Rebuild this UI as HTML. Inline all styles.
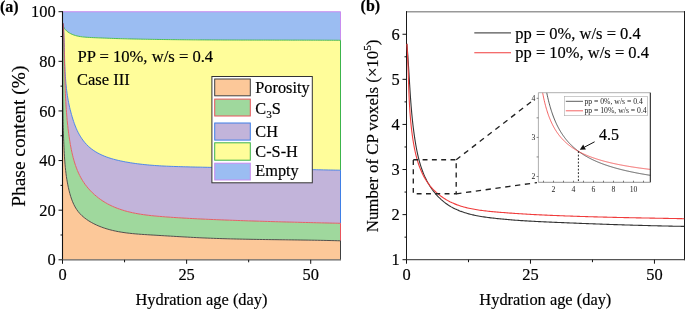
<!DOCTYPE html>
<html><head><meta charset="utf-8"><style>
html,body{margin:0;padding:0;background:#fff;}
svg{display:block;font-family:"Liberation Serif",serif;will-change:transform;}
text{fill:#000;stroke:#000;stroke-width:0.18px;}
text.s{stroke:none;fill:#222;}
</style></head><body>
<svg width="685" height="309" viewBox="0 0 685 309">
<polygon points="62.50,11.70 340.50,11.70 340.50,40.30 338.71,40.29 336.93,40.28 335.15,40.27 333.37,40.26 331.58,40.25 329.80,40.24 328.02,40.24 326.23,40.23 324.45,40.22 322.66,40.21 320.88,40.21 319.09,40.20 317.30,40.19 315.51,40.19 313.73,40.18 311.94,40.18 310.15,40.17 308.36,40.17 306.57,40.16 304.78,40.16 302.99,40.15 301.20,40.15 299.41,40.15 297.62,40.14 295.83,40.14 294.04,40.14 292.25,40.13 290.46,40.13 288.66,40.13 286.87,40.12 285.08,40.12 283.29,40.12 281.49,40.11 279.70,40.11 277.91,40.11 276.12,40.11 274.32,40.10 272.53,40.10 270.74,40.10 268.94,40.10 267.15,40.09 265.35,40.09 263.56,40.09 261.77,40.09 259.97,40.08 258.18,40.08 256.38,40.08 254.59,40.07 252.80,40.07 251.00,40.07 249.21,40.07 247.41,40.06 245.62,40.06 243.83,40.05 242.03,40.05 240.24,40.05 238.45,40.04 236.65,40.04 234.86,40.03 233.07,40.03 231.27,40.02 229.48,40.02 227.69,40.01 225.89,40.00 224.10,40.00 222.31,39.99 220.52,39.98 218.73,39.98 216.93,39.97 215.14,39.96 213.35,39.95 211.56,39.94 209.77,39.93 207.98,39.92 206.19,39.91 204.40,39.90 202.61,39.89 200.82,39.88 199.04,39.87 197.25,39.86 195.46,39.84 193.67,39.83 191.88,39.82 190.10,39.80 188.31,39.79 186.53,39.77 184.74,39.76 182.96,39.74 181.17,39.72 179.39,39.71 177.60,39.69 175.82,39.67 174.04,39.65 172.26,39.63 170.48,39.61 168.70,39.59 166.92,39.57 165.14,39.55 163.36,39.52 161.58,39.50 159.80,39.47 158.02,39.45 156.25,39.42 154.47,39.40 152.69,39.37 150.92,39.34 149.14,39.31 147.36,39.28 145.58,39.25 143.81,39.21 142.03,39.18 140.25,39.14 138.47,39.11 136.69,39.07 134.90,39.03 133.12,38.99 131.34,38.95 129.55,38.90 127.76,38.86 125.97,38.81 124.18,38.76 122.39,38.71 120.59,38.66 118.80,38.60 117.00,38.55 115.20,38.49 113.39,38.43 111.59,38.37 109.78,38.30 107.96,38.24 106.15,38.17 104.33,38.10 102.51,38.02 100.68,37.95 98.86,37.87 97.02,37.79 95.19,37.71 93.35,37.63 91.51,37.54 89.66,37.45 87.82,37.34 85.98,37.22 84.16,37.06 82.35,36.87 80.57,36.63 78.82,36.33 77.11,35.96 75.43,35.53 73.80,35.01 72.22,34.39 70.70,33.68 69.24,32.86 67.85,31.92 66.54,30.85 65.35,29.63 64.32,28.26 63.47,26.70 62.85,24.96 62.48,23.00 62.50,23.00" fill="#9bbdf2"/>
<polygon points="62.50,23.00 62.48,23.00 62.85,24.96 63.47,26.70 64.32,28.26 65.35,29.63 66.54,30.85 67.85,31.92 69.24,32.86 70.70,33.68 72.22,34.39 73.80,35.01 75.43,35.53 77.11,35.96 78.82,36.33 80.57,36.63 82.35,36.87 84.16,37.06 85.98,37.22 87.82,37.34 89.66,37.45 91.51,37.54 93.35,37.63 95.19,37.71 97.02,37.79 98.86,37.87 100.68,37.95 102.51,38.02 104.33,38.10 106.15,38.17 107.96,38.24 109.78,38.30 111.59,38.37 113.39,38.43 115.20,38.49 117.00,38.55 118.80,38.60 120.59,38.66 122.39,38.71 124.18,38.76 125.97,38.81 127.76,38.86 129.55,38.90 131.34,38.95 133.12,38.99 134.90,39.03 136.69,39.07 138.47,39.11 140.25,39.14 142.03,39.18 143.81,39.21 145.58,39.25 147.36,39.28 149.14,39.31 150.92,39.34 152.69,39.37 154.47,39.40 156.25,39.42 158.02,39.45 159.80,39.47 161.58,39.50 163.36,39.52 165.14,39.55 166.92,39.57 168.70,39.59 170.48,39.61 172.26,39.63 174.04,39.65 175.82,39.67 177.60,39.69 179.39,39.71 181.17,39.72 182.96,39.74 184.74,39.76 186.53,39.77 188.31,39.79 190.10,39.80 191.88,39.82 193.67,39.83 195.46,39.84 197.25,39.86 199.04,39.87 200.82,39.88 202.61,39.89 204.40,39.90 206.19,39.91 207.98,39.92 209.77,39.93 211.56,39.94 213.35,39.95 215.14,39.96 216.93,39.97 218.73,39.98 220.52,39.98 222.31,39.99 224.10,40.00 225.89,40.00 227.69,40.01 229.48,40.02 231.27,40.02 233.07,40.03 234.86,40.03 236.65,40.04 238.45,40.04 240.24,40.05 242.03,40.05 243.83,40.05 245.62,40.06 247.41,40.06 249.21,40.07 251.00,40.07 252.80,40.07 254.59,40.07 256.38,40.08 258.18,40.08 259.97,40.08 261.77,40.09 263.56,40.09 265.35,40.09 267.15,40.09 268.94,40.10 270.74,40.10 272.53,40.10 274.32,40.10 276.12,40.11 277.91,40.11 279.70,40.11 281.49,40.11 283.29,40.12 285.08,40.12 286.87,40.12 288.66,40.13 290.46,40.13 292.25,40.13 294.04,40.14 295.83,40.14 297.62,40.14 299.41,40.15 301.20,40.15 302.99,40.15 304.78,40.16 306.57,40.16 308.36,40.17 310.15,40.17 311.94,40.18 313.73,40.18 315.51,40.19 317.30,40.19 319.09,40.20 320.88,40.21 322.66,40.21 324.45,40.22 326.23,40.23 328.02,40.24 329.80,40.24 331.58,40.25 333.37,40.26 335.15,40.27 336.93,40.28 338.71,40.29 340.50,40.30 340.50,170.20 338.07,170.16 335.65,170.11 333.23,170.07 330.80,170.02 328.38,169.97 325.96,169.93 323.54,169.88 321.12,169.83 318.70,169.78 316.28,169.72 313.87,169.67 311.45,169.62 309.04,169.57 306.62,169.51 304.21,169.46 301.79,169.40 299.38,169.35 296.96,169.29 294.55,169.23 292.14,169.18 289.72,169.12 287.31,169.06 284.90,169.01 282.49,168.95 280.07,168.89 277.66,168.84 275.25,168.78 272.83,168.72 270.42,168.66 268.00,168.61 265.59,168.55 263.17,168.49 260.76,168.44 258.34,168.38 255.93,168.32 253.51,168.27 251.09,168.21 248.67,168.16 246.25,168.11 243.83,168.05 241.41,168.00 238.99,167.95 236.56,167.90 234.14,167.85 231.71,167.80 229.29,167.75 226.86,167.70 224.43,167.65 222.01,167.60 219.58,167.55 217.15,167.51 214.72,167.46 212.29,167.41 209.87,167.36 207.44,167.31 205.02,167.26 202.59,167.21 200.17,167.15 197.75,167.10 195.33,167.04 192.91,166.99 190.50,166.93 188.08,166.87 185.67,166.80 183.27,166.74 180.86,166.67 178.46,166.60 176.05,166.53 173.65,166.45 171.26,166.36 168.86,166.26 166.46,166.16 164.07,166.05 161.67,165.92 159.28,165.78 156.88,165.63 154.49,165.46 152.09,165.28 149.69,165.08 147.29,164.86 144.89,164.63 142.49,164.37 140.08,164.09 137.67,163.79 135.26,163.47 132.85,163.12 130.43,162.74 128.01,162.34 125.58,161.91 123.16,161.45 120.73,160.95 118.32,160.42 115.92,159.83 113.53,159.20 111.17,158.52 108.84,157.78 106.55,156.97 104.29,156.10 102.07,155.16 99.91,154.14 97.80,153.04 95.75,151.85 93.76,150.58 91.84,149.21 90.00,147.74 88.23,146.17 86.55,144.50 84.96,142.72 83.45,140.86 82.02,138.91 80.68,136.89 79.43,134.81 78.26,132.67 77.18,130.49 76.18,128.26 75.25,126.01 74.40,123.72 73.60,121.42 72.85,119.10 72.15,116.76 71.47,114.43 70.83,112.09 70.22,109.75 69.65,107.40 69.13,105.04 68.64,102.68 68.19,100.31 67.78,97.94 67.40,95.56 67.05,93.18 66.73,90.79 66.45,88.40 66.19,86.01 65.95,83.61 65.74,81.21 65.55,78.80 65.38,76.39 65.23,73.98 65.09,71.57 64.98,69.16 64.87,66.74 64.78,64.32 64.70,61.90 64.62,59.48 64.56,57.06 64.49,54.63 64.44,52.21 64.38,49.79 64.32,47.36 64.26,44.94 64.20,42.52 64.14,40.10 64.07,37.68 63.98,35.26 63.89,32.84 63.79,30.43 63.68,28.02 63.55,25.61 63.40,23.20 62.50,23.20" fill="#fffd9a"/>
<polygon points="62.50,23.20 63.40,23.20 63.55,25.61 63.68,28.02 63.79,30.43 63.89,32.84 63.98,35.26 64.07,37.68 64.14,40.10 64.20,42.52 64.26,44.94 64.32,47.36 64.38,49.79 64.44,52.21 64.49,54.63 64.56,57.06 64.62,59.48 64.70,61.90 64.78,64.32 64.87,66.74 64.98,69.16 65.09,71.57 65.23,73.98 65.38,76.39 65.55,78.80 65.74,81.21 65.95,83.61 66.19,86.01 66.45,88.40 66.73,90.79 67.05,93.18 67.40,95.56 67.78,97.94 68.19,100.31 68.64,102.68 69.13,105.04 69.65,107.40 70.22,109.75 70.83,112.09 71.47,114.43 72.15,116.76 72.85,119.10 73.60,121.42 74.40,123.72 75.25,126.01 76.18,128.26 77.18,130.49 78.26,132.67 79.43,134.81 80.68,136.89 82.02,138.91 83.45,140.86 84.96,142.72 86.55,144.50 88.23,146.17 90.00,147.74 91.84,149.21 93.76,150.58 95.75,151.85 97.80,153.04 99.91,154.14 102.07,155.16 104.29,156.10 106.55,156.97 108.84,157.78 111.17,158.52 113.53,159.20 115.92,159.83 118.32,160.42 120.73,160.95 123.16,161.45 125.58,161.91 128.01,162.34 130.43,162.74 132.85,163.12 135.26,163.47 137.67,163.79 140.08,164.09 142.49,164.37 144.89,164.63 147.29,164.86 149.69,165.08 152.09,165.28 154.49,165.46 156.88,165.63 159.28,165.78 161.67,165.92 164.07,166.05 166.46,166.16 168.86,166.26 171.26,166.36 173.65,166.45 176.05,166.53 178.46,166.60 180.86,166.67 183.27,166.74 185.67,166.80 188.08,166.87 190.50,166.93 192.91,166.99 195.33,167.04 197.75,167.10 200.17,167.15 202.59,167.21 205.02,167.26 207.44,167.31 209.87,167.36 212.29,167.41 214.72,167.46 217.15,167.51 219.58,167.55 222.01,167.60 224.43,167.65 226.86,167.70 229.29,167.75 231.71,167.80 234.14,167.85 236.56,167.90 238.99,167.95 241.41,168.00 243.83,168.05 246.25,168.11 248.67,168.16 251.09,168.21 253.51,168.27 255.93,168.32 258.34,168.38 260.76,168.44 263.17,168.49 265.59,168.55 268.00,168.61 270.42,168.66 272.83,168.72 275.25,168.78 277.66,168.84 280.07,168.89 282.49,168.95 284.90,169.01 287.31,169.06 289.72,169.12 292.14,169.18 294.55,169.23 296.96,169.29 299.38,169.35 301.79,169.40 304.21,169.46 306.62,169.51 309.04,169.57 311.45,169.62 313.87,169.67 316.28,169.72 318.70,169.78 321.12,169.83 323.54,169.88 325.96,169.93 328.38,169.97 330.80,170.02 333.23,170.07 335.65,170.11 338.07,170.16 340.50,170.20 340.50,223.30 337.82,223.24 335.13,223.18 332.45,223.11 329.76,223.05 327.07,222.99 324.38,222.93 321.68,222.86 318.99,222.80 316.29,222.74 313.59,222.67 310.89,222.61 308.18,222.54 305.48,222.47 302.78,222.41 300.07,222.34 297.36,222.27 294.66,222.20 291.95,222.13 289.24,222.06 286.53,221.99 283.82,221.91 281.11,221.84 278.40,221.76 275.69,221.69 272.98,221.61 270.27,221.53 267.56,221.45 264.85,221.37 262.14,221.29 259.44,221.21 256.73,221.12 254.02,221.04 251.32,220.95 248.62,220.86 245.91,220.77 243.21,220.68 240.51,220.58 237.82,220.49 235.12,220.39 232.43,220.29 229.74,220.20 227.05,220.09 224.36,219.99 221.67,219.89 218.99,219.78 216.31,219.67 213.63,219.56 210.96,219.45 208.28,219.33 205.60,219.21 202.93,219.09 200.25,218.96 197.58,218.83 194.90,218.70 192.22,218.56 189.54,218.41 186.86,218.26 184.17,218.11 181.48,217.95 178.78,217.78 176.08,217.61 173.37,217.43 170.66,217.25 167.94,217.05 165.22,216.85 162.49,216.64 159.75,216.42 157.01,216.19 154.27,215.93 151.54,215.65 148.80,215.34 146.08,215.01 143.36,214.64 140.66,214.23 137.96,213.78 135.29,213.29 132.63,212.74 129.99,212.15 127.37,211.50 124.78,210.79 122.22,210.01 119.68,209.17 117.18,208.26 114.71,207.27 112.27,206.21 109.88,205.06 107.52,203.83 105.21,202.51 102.94,201.10 100.72,199.60 98.56,198.01 96.46,196.34 94.42,194.59 92.45,192.76 90.55,190.86 88.74,188.88 87.00,186.82 85.36,184.70 83.80,182.50 82.34,180.25 80.99,177.92 79.73,175.54 78.56,173.11 77.48,170.63 76.48,168.12 75.56,165.56 74.71,162.98 73.93,160.38 73.21,157.76 72.55,155.12 71.94,152.48 71.37,149.82 70.85,147.15 70.37,144.48 69.92,141.80 69.50,139.12 69.10,136.44 68.73,133.76 68.38,131.08 68.05,128.40 67.75,125.72 67.46,123.03 67.19,120.35 66.94,117.66 66.71,114.97 66.50,112.29 66.30,109.60 66.12,106.91 65.95,104.22 65.79,101.53 65.65,98.84 65.52,96.15 65.40,93.45 65.29,90.76 65.19,88.07 65.09,85.37 65.01,82.68 64.93,79.98 64.85,77.29 64.78,74.59 64.72,71.90 64.65,69.20 64.59,66.50 64.53,63.80 64.47,61.11 64.41,58.41 64.35,55.71 64.29,53.01 64.22,50.31 64.15,47.61 64.08,44.91 64.00,42.21 63.91,39.51 63.81,36.81 63.71,34.11 63.60,31.40 63.48,28.70 63.34,26.00 63.20,23.30 62.50,23.30" fill="#c2b4da"/>
<polygon points="62.50,23.30 63.20,23.30 63.34,26.00 63.48,28.70 63.60,31.40 63.71,34.11 63.81,36.81 63.91,39.51 64.00,42.21 64.08,44.91 64.15,47.61 64.22,50.31 64.29,53.01 64.35,55.71 64.41,58.41 64.47,61.11 64.53,63.80 64.59,66.50 64.65,69.20 64.72,71.90 64.78,74.59 64.85,77.29 64.93,79.98 65.01,82.68 65.09,85.37 65.19,88.07 65.29,90.76 65.40,93.45 65.52,96.15 65.65,98.84 65.79,101.53 65.95,104.22 66.12,106.91 66.30,109.60 66.50,112.29 66.71,114.97 66.94,117.66 67.19,120.35 67.46,123.03 67.75,125.72 68.05,128.40 68.38,131.08 68.73,133.76 69.10,136.44 69.50,139.12 69.92,141.80 70.37,144.48 70.85,147.15 71.37,149.82 71.94,152.48 72.55,155.12 73.21,157.76 73.93,160.38 74.71,162.98 75.56,165.56 76.48,168.12 77.48,170.63 78.56,173.11 79.73,175.54 80.99,177.92 82.34,180.25 83.80,182.50 85.36,184.70 87.00,186.82 88.74,188.88 90.55,190.86 92.45,192.76 94.42,194.59 96.46,196.34 98.56,198.01 100.72,199.60 102.94,201.10 105.21,202.51 107.52,203.83 109.88,205.06 112.27,206.21 114.71,207.27 117.18,208.26 119.68,209.17 122.22,210.01 124.78,210.79 127.37,211.50 129.99,212.15 132.63,212.74 135.29,213.29 137.96,213.78 140.66,214.23 143.36,214.64 146.08,215.01 148.80,215.34 151.54,215.65 154.27,215.93 157.01,216.19 159.75,216.42 162.49,216.64 165.22,216.85 167.94,217.05 170.66,217.25 173.37,217.43 176.08,217.61 178.78,217.78 181.48,217.95 184.17,218.11 186.86,218.26 189.54,218.41 192.22,218.56 194.90,218.70 197.58,218.83 200.25,218.96 202.93,219.09 205.60,219.21 208.28,219.33 210.96,219.45 213.63,219.56 216.31,219.67 218.99,219.78 221.67,219.89 224.36,219.99 227.05,220.09 229.74,220.20 232.43,220.29 235.12,220.39 237.82,220.49 240.51,220.58 243.21,220.68 245.91,220.77 248.62,220.86 251.32,220.95 254.02,221.04 256.73,221.12 259.44,221.21 262.14,221.29 264.85,221.37 267.56,221.45 270.27,221.53 272.98,221.61 275.69,221.69 278.40,221.76 281.11,221.84 283.82,221.91 286.53,221.99 289.24,222.06 291.95,222.13 294.66,222.20 297.36,222.27 300.07,222.34 302.78,222.41 305.48,222.47 308.18,222.54 310.89,222.61 313.59,222.67 316.29,222.74 318.99,222.80 321.68,222.86 324.38,222.93 327.07,222.99 329.76,223.05 332.45,223.11 335.13,223.18 337.82,223.24 340.50,223.30 340.50,240.81 337.63,240.73 334.76,240.65 331.88,240.58 329.01,240.51 326.13,240.45 323.25,240.39 320.37,240.33 317.49,240.28 314.61,240.23 311.72,240.18 308.83,240.13 305.95,240.09 303.06,240.05 300.17,240.00 297.28,239.96 294.39,239.93 291.49,239.89 288.60,239.85 285.71,239.81 282.81,239.78 279.92,239.74 277.02,239.70 274.13,239.67 271.24,239.63 268.34,239.59 265.45,239.55 262.55,239.50 259.66,239.46 256.76,239.41 253.87,239.37 250.98,239.32 248.09,239.26 245.20,239.21 242.31,239.15 239.42,239.08 236.53,239.02 233.64,238.95 230.76,238.87 227.87,238.80 224.99,238.71 222.11,238.63 219.23,238.53 216.35,238.44 213.48,238.33 210.61,238.22 207.73,238.11 204.86,237.99 202.00,237.86 199.13,237.73 196.27,237.59 193.41,237.44 190.55,237.29 187.68,237.14 184.82,236.98 181.96,236.81 179.09,236.65 176.23,236.48 173.36,236.30 170.48,236.13 167.61,235.96 164.72,235.78 161.84,235.60 158.94,235.43 156.04,235.25 153.14,235.08 150.22,234.91 147.30,234.73 144.38,234.54 141.45,234.35 138.53,234.13 135.61,233.89 132.70,233.62 129.79,233.31 126.89,232.96 124.01,232.57 121.14,232.13 118.29,231.63 115.46,231.07 112.65,230.44 109.87,229.74 107.11,228.97 104.39,228.11 101.69,227.16 99.02,226.12 96.40,224.97 93.81,223.73 91.27,222.37 88.81,220.90 86.43,219.31 84.17,217.59 82.03,215.75 80.03,213.76 78.20,211.63 76.55,209.35 75.08,206.94 73.77,204.41 72.60,201.78 71.57,199.07 70.64,196.29 69.82,193.47 69.09,190.63 68.43,187.78 67.83,184.92 67.29,182.06 66.80,179.20 66.37,176.33 65.99,173.46 65.65,170.58 65.34,167.71 65.08,164.83 64.84,161.95 64.63,159.07 64.45,156.19 64.28,153.31 64.13,150.43 63.99,147.55 63.85,144.66 63.73,141.78 63.62,138.90 63.51,136.02 63.41,133.13 63.33,130.25 63.24,127.37 63.17,124.48 63.10,121.60 63.04,118.72 62.99,115.83 62.94,112.95 62.90,110.07 62.86,107.18 62.83,104.30 62.80,101.42 62.78,98.53 62.76,95.65 62.75,92.77 62.74,89.88 62.73,87.00 62.72,84.11 62.72,81.23 62.72,78.34 62.72,75.46 62.72,72.57 62.73,69.69 62.73,66.80 62.74,63.92 62.75,61.03 62.75,58.14 62.76,55.26 62.76,52.37 62.77,49.49 62.77,46.60 62.77,43.71 62.77,40.83 62.76,37.94 62.76,35.05 62.75,32.16 62.74,29.28 62.72,26.39 62.70,23.50 62.50,23.50" fill="#9fd89d"/>
<polygon points="62.50,23.50 62.70,23.50 62.72,26.39 62.74,29.28 62.75,32.16 62.76,35.05 62.76,37.94 62.77,40.83 62.77,43.71 62.77,46.60 62.77,49.49 62.76,52.37 62.76,55.26 62.75,58.14 62.75,61.03 62.74,63.92 62.73,66.80 62.73,69.69 62.72,72.57 62.72,75.46 62.72,78.34 62.72,81.23 62.72,84.11 62.73,87.00 62.74,89.88 62.75,92.77 62.76,95.65 62.78,98.53 62.80,101.42 62.83,104.30 62.86,107.18 62.90,110.07 62.94,112.95 62.99,115.83 63.04,118.72 63.10,121.60 63.17,124.48 63.24,127.37 63.33,130.25 63.41,133.13 63.51,136.02 63.62,138.90 63.73,141.78 63.85,144.66 63.99,147.55 64.13,150.43 64.28,153.31 64.45,156.19 64.63,159.07 64.84,161.95 65.08,164.83 65.34,167.71 65.65,170.58 65.99,173.46 66.37,176.33 66.80,179.20 67.29,182.06 67.83,184.92 68.43,187.78 69.09,190.63 69.82,193.47 70.64,196.29 71.57,199.07 72.60,201.78 73.77,204.41 75.08,206.94 76.55,209.35 78.20,211.63 80.03,213.76 82.03,215.75 84.17,217.59 86.43,219.31 88.81,220.90 91.27,222.37 93.81,223.73 96.40,224.97 99.02,226.12 101.69,227.16 104.39,228.11 107.11,228.97 109.87,229.74 112.65,230.44 115.46,231.07 118.29,231.63 121.14,232.13 124.01,232.57 126.89,232.96 129.79,233.31 132.70,233.62 135.61,233.89 138.53,234.13 141.45,234.35 144.38,234.54 147.30,234.73 150.22,234.91 153.14,235.08 156.04,235.25 158.94,235.43 161.84,235.60 164.72,235.78 167.61,235.96 170.48,236.13 173.36,236.30 176.23,236.48 179.09,236.65 181.96,236.81 184.82,236.98 187.68,237.14 190.55,237.29 193.41,237.44 196.27,237.59 199.13,237.73 202.00,237.86 204.86,237.99 207.73,238.11 210.61,238.22 213.48,238.33 216.35,238.44 219.23,238.53 222.11,238.63 224.99,238.71 227.87,238.80 230.76,238.87 233.64,238.95 236.53,239.02 239.42,239.08 242.31,239.15 245.20,239.21 248.09,239.26 250.98,239.32 253.87,239.37 256.76,239.41 259.66,239.46 262.55,239.50 265.45,239.55 268.34,239.59 271.24,239.63 274.13,239.67 277.02,239.70 279.92,239.74 282.81,239.78 285.71,239.81 288.60,239.85 291.49,239.89 294.39,239.93 297.28,239.96 300.17,240.00 303.06,240.05 305.95,240.09 308.83,240.13 311.72,240.18 314.61,240.23 317.49,240.28 320.37,240.33 323.25,240.39 326.13,240.45 329.01,240.51 331.88,240.58 334.76,240.65 337.63,240.73 340.50,240.81 340.50,259.80 62.50,259.80" fill="#fcc899"/>
<line x1="340.5" y1="11.7" x2="340.5" y2="40.30" stroke="#c88cf0" stroke-width="1"/>
<line x1="340.5" y1="40.30" x2="340.5" y2="170.20" stroke="#3cb44b" stroke-width="1"/>
<line x1="340.5" y1="170.20" x2="340.5" y2="223.30" stroke="#3f7fe6" stroke-width="1"/>
<line x1="340.5" y1="223.30" x2="340.5" y2="240.81" stroke="#e8545c" stroke-width="1"/>
<line x1="340.5" y1="240.81" x2="340.5" y2="259.8" stroke="#404040" stroke-width="1"/>
<line x1="62.5" y1="11.7" x2="340.5" y2="11.7" stroke="#c88cf0" stroke-width="1.1"/>
<polyline points="62.48,23.00 62.85,24.96 63.47,26.70 64.32,28.26 65.35,29.63 66.54,30.85 67.85,31.92 69.24,32.86 70.70,33.68 72.22,34.39 73.80,35.01 75.43,35.53 77.11,35.96 78.82,36.33 80.57,36.63 82.35,36.87 84.16,37.06 85.98,37.22 87.82,37.34 89.66,37.45 91.51,37.54 93.35,37.63 95.19,37.71 97.02,37.79 98.86,37.87 100.68,37.95 102.51,38.02 104.33,38.10 106.15,38.17 107.96,38.24 109.78,38.30 111.59,38.37 113.39,38.43 115.20,38.49 117.00,38.55 118.80,38.60 120.59,38.66 122.39,38.71 124.18,38.76 125.97,38.81 127.76,38.86 129.55,38.90 131.34,38.95 133.12,38.99 134.90,39.03 136.69,39.07 138.47,39.11 140.25,39.14 142.03,39.18 143.81,39.21 145.58,39.25 147.36,39.28 149.14,39.31 150.92,39.34 152.69,39.37 154.47,39.40 156.25,39.42 158.02,39.45 159.80,39.47 161.58,39.50 163.36,39.52 165.14,39.55 166.92,39.57 168.70,39.59 170.48,39.61 172.26,39.63 174.04,39.65 175.82,39.67 177.60,39.69 179.39,39.71 181.17,39.72 182.96,39.74 184.74,39.76 186.53,39.77 188.31,39.79 190.10,39.80 191.88,39.82 193.67,39.83 195.46,39.84 197.25,39.86 199.04,39.87 200.82,39.88 202.61,39.89 204.40,39.90 206.19,39.91 207.98,39.92 209.77,39.93 211.56,39.94 213.35,39.95 215.14,39.96 216.93,39.97 218.73,39.98 220.52,39.98 222.31,39.99 224.10,40.00 225.89,40.00 227.69,40.01 229.48,40.02 231.27,40.02 233.07,40.03 234.86,40.03 236.65,40.04 238.45,40.04 240.24,40.05 242.03,40.05 243.83,40.05 245.62,40.06 247.41,40.06 249.21,40.07 251.00,40.07 252.80,40.07 254.59,40.07 256.38,40.08 258.18,40.08 259.97,40.08 261.77,40.09 263.56,40.09 265.35,40.09 267.15,40.09 268.94,40.10 270.74,40.10 272.53,40.10 274.32,40.10 276.12,40.11 277.91,40.11 279.70,40.11 281.49,40.11 283.29,40.12 285.08,40.12 286.87,40.12 288.66,40.13 290.46,40.13 292.25,40.13 294.04,40.14 295.83,40.14 297.62,40.14 299.41,40.15 301.20,40.15 302.99,40.15 304.78,40.16 306.57,40.16 308.36,40.17 310.15,40.17 311.94,40.18 313.73,40.18 315.51,40.19 317.30,40.19 319.09,40.20 320.88,40.21 322.66,40.21 324.45,40.22 326.23,40.23 328.02,40.24 329.80,40.24 331.58,40.25 333.37,40.26 335.15,40.27 336.93,40.28 338.71,40.29 340.50,40.30" fill="none" stroke="#3cb44b" stroke-width="0.9"/>
<polyline points="63.40,23.20 63.55,25.61 63.68,28.02 63.79,30.43 63.89,32.84 63.98,35.26 64.07,37.68 64.14,40.10 64.20,42.52 64.26,44.94 64.32,47.36 64.38,49.79 64.44,52.21 64.49,54.63 64.56,57.06 64.62,59.48 64.70,61.90 64.78,64.32 64.87,66.74 64.98,69.16 65.09,71.57 65.23,73.98 65.38,76.39 65.55,78.80 65.74,81.21 65.95,83.61 66.19,86.01 66.45,88.40 66.73,90.79 67.05,93.18 67.40,95.56 67.78,97.94 68.19,100.31 68.64,102.68 69.13,105.04 69.65,107.40 70.22,109.75 70.83,112.09 71.47,114.43 72.15,116.76 72.85,119.10 73.60,121.42 74.40,123.72 75.25,126.01 76.18,128.26 77.18,130.49 78.26,132.67 79.43,134.81 80.68,136.89 82.02,138.91 83.45,140.86 84.96,142.72 86.55,144.50 88.23,146.17 90.00,147.74 91.84,149.21 93.76,150.58 95.75,151.85 97.80,153.04 99.91,154.14 102.07,155.16 104.29,156.10 106.55,156.97 108.84,157.78 111.17,158.52 113.53,159.20 115.92,159.83 118.32,160.42 120.73,160.95 123.16,161.45 125.58,161.91 128.01,162.34 130.43,162.74 132.85,163.12 135.26,163.47 137.67,163.79 140.08,164.09 142.49,164.37 144.89,164.63 147.29,164.86 149.69,165.08 152.09,165.28 154.49,165.46 156.88,165.63 159.28,165.78 161.67,165.92 164.07,166.05 166.46,166.16 168.86,166.26 171.26,166.36 173.65,166.45 176.05,166.53 178.46,166.60 180.86,166.67 183.27,166.74 185.67,166.80 188.08,166.87 190.50,166.93 192.91,166.99 195.33,167.04 197.75,167.10 200.17,167.15 202.59,167.21 205.02,167.26 207.44,167.31 209.87,167.36 212.29,167.41 214.72,167.46 217.15,167.51 219.58,167.55 222.01,167.60 224.43,167.65 226.86,167.70 229.29,167.75 231.71,167.80 234.14,167.85 236.56,167.90 238.99,167.95 241.41,168.00 243.83,168.05 246.25,168.11 248.67,168.16 251.09,168.21 253.51,168.27 255.93,168.32 258.34,168.38 260.76,168.44 263.17,168.49 265.59,168.55 268.00,168.61 270.42,168.66 272.83,168.72 275.25,168.78 277.66,168.84 280.07,168.89 282.49,168.95 284.90,169.01 287.31,169.06 289.72,169.12 292.14,169.18 294.55,169.23 296.96,169.29 299.38,169.35 301.79,169.40 304.21,169.46 306.62,169.51 309.04,169.57 311.45,169.62 313.87,169.67 316.28,169.72 318.70,169.78 321.12,169.83 323.54,169.88 325.96,169.93 328.38,169.97 330.80,170.02 333.23,170.07 335.65,170.11 338.07,170.16 340.50,170.20" fill="none" stroke="#3f7fe6" stroke-width="0.9"/>
<polyline points="63.20,23.30 63.34,26.00 63.48,28.70 63.60,31.40 63.71,34.11 63.81,36.81 63.91,39.51 64.00,42.21 64.08,44.91 64.15,47.61 64.22,50.31 64.29,53.01 64.35,55.71 64.41,58.41 64.47,61.11 64.53,63.80 64.59,66.50 64.65,69.20 64.72,71.90 64.78,74.59 64.85,77.29 64.93,79.98 65.01,82.68 65.09,85.37 65.19,88.07 65.29,90.76 65.40,93.45 65.52,96.15 65.65,98.84 65.79,101.53 65.95,104.22 66.12,106.91 66.30,109.60 66.50,112.29 66.71,114.97 66.94,117.66 67.19,120.35 67.46,123.03 67.75,125.72 68.05,128.40 68.38,131.08 68.73,133.76 69.10,136.44 69.50,139.12 69.92,141.80 70.37,144.48 70.85,147.15 71.37,149.82 71.94,152.48 72.55,155.12 73.21,157.76 73.93,160.38 74.71,162.98 75.56,165.56 76.48,168.12 77.48,170.63 78.56,173.11 79.73,175.54 80.99,177.92 82.34,180.25 83.80,182.50 85.36,184.70 87.00,186.82 88.74,188.88 90.55,190.86 92.45,192.76 94.42,194.59 96.46,196.34 98.56,198.01 100.72,199.60 102.94,201.10 105.21,202.51 107.52,203.83 109.88,205.06 112.27,206.21 114.71,207.27 117.18,208.26 119.68,209.17 122.22,210.01 124.78,210.79 127.37,211.50 129.99,212.15 132.63,212.74 135.29,213.29 137.96,213.78 140.66,214.23 143.36,214.64 146.08,215.01 148.80,215.34 151.54,215.65 154.27,215.93 157.01,216.19 159.75,216.42 162.49,216.64 165.22,216.85 167.94,217.05 170.66,217.25 173.37,217.43 176.08,217.61 178.78,217.78 181.48,217.95 184.17,218.11 186.86,218.26 189.54,218.41 192.22,218.56 194.90,218.70 197.58,218.83 200.25,218.96 202.93,219.09 205.60,219.21 208.28,219.33 210.96,219.45 213.63,219.56 216.31,219.67 218.99,219.78 221.67,219.89 224.36,219.99 227.05,220.09 229.74,220.20 232.43,220.29 235.12,220.39 237.82,220.49 240.51,220.58 243.21,220.68 245.91,220.77 248.62,220.86 251.32,220.95 254.02,221.04 256.73,221.12 259.44,221.21 262.14,221.29 264.85,221.37 267.56,221.45 270.27,221.53 272.98,221.61 275.69,221.69 278.40,221.76 281.11,221.84 283.82,221.91 286.53,221.99 289.24,222.06 291.95,222.13 294.66,222.20 297.36,222.27 300.07,222.34 302.78,222.41 305.48,222.47 308.18,222.54 310.89,222.61 313.59,222.67 316.29,222.74 318.99,222.80 321.68,222.86 324.38,222.93 327.07,222.99 329.76,223.05 332.45,223.11 335.13,223.18 337.82,223.24 340.50,223.30" fill="none" stroke="#e8545c" stroke-width="0.9"/>
<polyline points="62.70,23.50 62.72,26.39 62.74,29.28 62.75,32.16 62.76,35.05 62.76,37.94 62.77,40.83 62.77,43.71 62.77,46.60 62.77,49.49 62.76,52.37 62.76,55.26 62.75,58.14 62.75,61.03 62.74,63.92 62.73,66.80 62.73,69.69 62.72,72.57 62.72,75.46 62.72,78.34 62.72,81.23 62.72,84.11 62.73,87.00 62.74,89.88 62.75,92.77 62.76,95.65 62.78,98.53 62.80,101.42 62.83,104.30 62.86,107.18 62.90,110.07 62.94,112.95 62.99,115.83 63.04,118.72 63.10,121.60 63.17,124.48 63.24,127.37 63.33,130.25 63.41,133.13 63.51,136.02 63.62,138.90 63.73,141.78 63.85,144.66 63.99,147.55 64.13,150.43 64.28,153.31 64.45,156.19 64.63,159.07 64.84,161.95 65.08,164.83 65.34,167.71 65.65,170.58 65.99,173.46 66.37,176.33 66.80,179.20 67.29,182.06 67.83,184.92 68.43,187.78 69.09,190.63 69.82,193.47 70.64,196.29 71.57,199.07 72.60,201.78 73.77,204.41 75.08,206.94 76.55,209.35 78.20,211.63 80.03,213.76 82.03,215.75 84.17,217.59 86.43,219.31 88.81,220.90 91.27,222.37 93.81,223.73 96.40,224.97 99.02,226.12 101.69,227.16 104.39,228.11 107.11,228.97 109.87,229.74 112.65,230.44 115.46,231.07 118.29,231.63 121.14,232.13 124.01,232.57 126.89,232.96 129.79,233.31 132.70,233.62 135.61,233.89 138.53,234.13 141.45,234.35 144.38,234.54 147.30,234.73 150.22,234.91 153.14,235.08 156.04,235.25 158.94,235.43 161.84,235.60 164.72,235.78 167.61,235.96 170.48,236.13 173.36,236.30 176.23,236.48 179.09,236.65 181.96,236.81 184.82,236.98 187.68,237.14 190.55,237.29 193.41,237.44 196.27,237.59 199.13,237.73 202.00,237.86 204.86,237.99 207.73,238.11 210.61,238.22 213.48,238.33 216.35,238.44 219.23,238.53 222.11,238.63 224.99,238.71 227.87,238.80 230.76,238.87 233.64,238.95 236.53,239.02 239.42,239.08 242.31,239.15 245.20,239.21 248.09,239.26 250.98,239.32 253.87,239.37 256.76,239.41 259.66,239.46 262.55,239.50 265.45,239.55 268.34,239.59 271.24,239.63 274.13,239.67 277.02,239.70 279.92,239.74 282.81,239.78 285.71,239.81 288.60,239.85 291.49,239.89 294.39,239.93 297.28,239.96 300.17,240.00 303.06,240.05 305.95,240.09 308.83,240.13 311.72,240.18 314.61,240.23 317.49,240.28 320.37,240.33 323.25,240.39 326.13,240.45 329.01,240.51 331.88,240.58 334.76,240.65 337.63,240.73 340.50,240.81" fill="none" stroke="#404040" stroke-width="0.9"/>
<line x1="62.5" y1="11.2" x2="62.5" y2="260.40000000000003" stroke="#111" stroke-width="1.1"/>
<line x1="62.0" y1="259.8" x2="341.0" y2="259.8" stroke="#666" stroke-width="1.2"/>
<line x1="58.5" y1="259.80" x2="62.5" y2="259.80" stroke="#111" stroke-width="1"/>
<line x1="60.5" y1="234.99" x2="62.5" y2="234.99" stroke="#111" stroke-width="1"/>
<line x1="58.5" y1="210.18" x2="62.5" y2="210.18" stroke="#111" stroke-width="1"/>
<line x1="60.5" y1="185.37" x2="62.5" y2="185.37" stroke="#111" stroke-width="1"/>
<line x1="58.5" y1="160.56" x2="62.5" y2="160.56" stroke="#111" stroke-width="1"/>
<line x1="60.5" y1="135.75" x2="62.5" y2="135.75" stroke="#111" stroke-width="1"/>
<line x1="58.5" y1="110.94" x2="62.5" y2="110.94" stroke="#111" stroke-width="1"/>
<line x1="60.5" y1="86.13" x2="62.5" y2="86.13" stroke="#111" stroke-width="1"/>
<line x1="58.5" y1="61.32" x2="62.5" y2="61.32" stroke="#111" stroke-width="1"/>
<line x1="60.5" y1="36.51" x2="62.5" y2="36.51" stroke="#111" stroke-width="1"/>
<line x1="58.5" y1="11.70" x2="62.5" y2="11.70" stroke="#111" stroke-width="1"/>
<line x1="62.50" y1="259.8" x2="62.50" y2="263.8" stroke="#111" stroke-width="1"/>
<line x1="124.55" y1="259.8" x2="124.55" y2="262.3" stroke="#111" stroke-width="1"/>
<line x1="186.61" y1="259.8" x2="186.61" y2="263.8" stroke="#111" stroke-width="1"/>
<line x1="248.66" y1="259.8" x2="248.66" y2="262.3" stroke="#111" stroke-width="1"/>
<line x1="310.71" y1="259.8" x2="310.71" y2="263.8" stroke="#111" stroke-width="1"/>
<text x="55.6" y="265.40" text-anchor="end" font-size="16.4">0</text>
<text x="55.6" y="215.78" text-anchor="end" font-size="16.4">20</text>
<text x="55.6" y="166.16" text-anchor="end" font-size="16.4">40</text>
<text x="55.6" y="116.54" text-anchor="end" font-size="16.4">60</text>
<text x="55.6" y="66.92" text-anchor="end" font-size="16.4">80</text>
<text x="55.6" y="17.30" text-anchor="end" font-size="16.4">100</text>
<text x="62.50" y="279.6" text-anchor="middle" font-size="16.4">0</text>
<text x="186.61" y="279.6" text-anchor="middle" font-size="16.4">25</text>
<text x="310.71" y="279.6" text-anchor="middle" font-size="16.4">50</text>
<text x="201.50" y="304.7" text-anchor="middle" font-size="16.4">Hydration age (day)</text>
<text transform="translate(24.9,136.2) rotate(-90)" text-anchor="middle" font-size="19.4">Phase content (%)</text>
<text x="0" y="12.4" font-size="16" font-weight="bold">(a)</text>
<text x="77.4" y="61.9" font-size="16.62">PP = 10%, w/s = 0.4</text>
<text x="77.0" y="84.9" font-size="16.5">Case III</text>
<rect x="211.9" y="76.5" width="100.4" height="106.3" fill="#fff" stroke="#333" stroke-width="1"/>
<rect x="214.7" y="79.0" width="35.6" height="16.799999999999997" fill="#fcc899" stroke="#404040" stroke-width="1"/>
<text x="255.3" y="92.7" font-size="16.3">Porosity</text>
<rect x="214.7" y="99.1" width="35.6" height="16.900000000000006" fill="#9fd89d" stroke="#e8545c" stroke-width="1"/>
<text x="255.3" y="113.6" font-size="16.3">C<tspan font-size="11.2" dy="4">3</tspan><tspan dy="-4">S</tspan></text>
<rect x="214.7" y="123.0" width="35.6" height="17.099999999999994" fill="#c2b4da" stroke="#3f7fe6" stroke-width="1"/>
<text x="255.3" y="136.7" font-size="16.3">CH</text>
<rect x="214.7" y="142.8" width="35.6" height="17.399999999999977" fill="#fffd9a" stroke="#3cb44b" stroke-width="1"/>
<text x="255.3" y="157.0" font-size="16.3">C-S-H</text>
<rect x="214.7" y="163.2" width="35.6" height="16.80000000000001" fill="#9bbdf2" stroke="#c88cf0" stroke-width="1"/>
<text x="255.3" y="176.4" font-size="16.3">Empty</text>
<line x1="406.5" y1="11.799999999999999" x2="684.5" y2="11.799999999999999" stroke="#999" stroke-width="1.5"/>
<line x1="684.5" y1="11.1" x2="684.5" y2="260.3" stroke="#1a1a1a" stroke-width="1"/>
<line x1="406.5" y1="11.1" x2="406.5" y2="260.3" stroke="#1a1a1a" stroke-width="1"/>
<line x1="406.5" y1="259.7" x2="684.5" y2="259.7" stroke="#555" stroke-width="1.3"/>
<polyline points="406.89,43.90 407.01,45.28 407.13,46.67 407.24,48.06 407.35,49.44 407.46,50.82 407.57,52.20 407.67,53.58 407.77,54.96 407.87,56.34 407.97,57.72 408.06,59.09 408.15,60.46 408.25,61.84 408.34,63.21 408.42,64.58 408.51,65.95 408.60,67.32 408.68,68.69 408.77,70.06 408.85,71.42 408.94,72.79 409.02,74.15 409.10,75.52 409.18,76.88 409.27,78.25 409.35,79.61 409.43,80.97 409.51,82.33 409.59,83.69 409.68,85.05 409.76,86.41 409.85,87.77 409.93,89.13 410.02,90.49 410.11,91.85 410.20,93.21 410.29,94.57 410.38,95.93 410.47,97.28 410.57,98.64 410.67,100.00 410.77,101.36 410.87,102.72 410.98,104.07 411.08,105.43 411.19,106.79 411.30,108.15 411.42,109.51 411.54,110.87 411.66,112.23 411.78,113.58 411.91,114.94 412.04,116.30 412.17,117.66 412.31,119.03 412.46,120.39 412.60,121.75 412.75,123.11 412.91,124.47 413.07,125.84 413.23,127.20 413.40,128.57 413.57,129.93 413.75,131.30 413.93,132.66 414.12,134.03 414.31,135.40 414.51,136.77 414.71,138.14 414.92,139.51 415.14,140.89 415.36,142.26 415.59,143.63 415.82,145.01 416.07,146.38 416.32,147.75 416.58,149.12 416.85,150.49 417.13,151.86 417.41,153.22 417.71,154.58 418.02,155.94 418.35,157.29 418.68,158.64 419.03,159.99 419.39,161.32 419.76,162.66 420.15,163.99 420.55,165.31 420.97,166.62 421.40,167.93 421.85,169.23 422.32,170.52 422.80,171.81 423.30,173.08 423.82,174.35 424.36,175.61 424.91,176.85 425.49,178.09 426.09,179.32 426.70,180.53 427.34,181.73 428.00,182.92 428.68,184.10 429.38,185.26 430.11,186.42 430.86,187.55 431.63,188.67 432.42,189.78 433.24,190.87 434.07,191.94 434.93,193.00 435.80,194.04 436.70,195.05 437.62,196.05 438.56,197.03 439.51,197.98 440.49,198.91 441.48,199.82 442.50,200.71 443.53,201.57 444.58,202.41 445.65,203.22 446.74,204.00 447.84,204.76 448.96,205.49 450.10,206.19 451.25,206.87 452.42,207.52 453.60,208.14 454.80,208.74 456.01,209.31 457.24,209.86 458.48,210.38 459.73,210.89 460.99,211.37 462.27,211.83 463.55,212.27 464.85,212.69 466.16,213.10 467.47,213.48 468.80,213.85 470.13,214.19 471.47,214.53 472.82,214.84 474.17,215.15 475.53,215.43 476.90,215.71 478.27,215.97 479.65,216.21 481.03,216.45 482.41,216.68 483.80,216.89 485.19,217.10 486.58,217.29 487.98,217.48 489.37,217.66 490.77,217.83 492.16,218.00 493.56,218.16 494.95,218.31 496.34,218.46 497.73,218.61 499.12,218.75 500.51,218.89 501.90,219.02 503.28,219.16 504.66,219.28 506.04,219.41 507.42,219.53 508.80,219.65 510.18,219.76 511.55,219.87 512.92,219.98 514.30,220.09 515.67,220.19 517.04,220.29 518.41,220.39 519.78,220.48 521.14,220.58 522.51,220.67 523.88,220.75 525.24,220.84 526.60,220.92 527.97,221.00 529.33,221.08 530.69,221.16 532.06,221.24 533.42,221.31 534.78,221.38 536.14,221.45 537.50,221.52 538.86,221.59 540.22,221.66 541.58,221.72 542.94,221.78 544.30,221.85 545.66,221.91 547.02,221.97 548.38,222.03 549.74,222.09 551.10,222.15 552.46,222.21 553.83,222.27 555.19,222.33 556.55,222.38 557.92,222.44 559.28,222.50 560.64,222.56 562.01,222.61 563.38,222.67 564.74,222.73 566.11,222.78 567.48,222.84 568.84,222.89 570.21,222.95 571.58,223.00 572.95,223.06 574.32,223.11 575.69,223.17 577.06,223.22 578.43,223.28 579.80,223.33 581.17,223.38 582.54,223.44 583.91,223.49 585.29,223.54 586.66,223.59 588.03,223.65 589.41,223.70 590.78,223.75 592.15,223.80 593.53,223.85 594.90,223.90 596.28,223.95 597.65,224.00 599.03,224.05 600.40,224.10 601.78,224.15 603.15,224.20 604.53,224.25 605.90,224.30 607.28,224.34 608.66,224.39 610.03,224.44 611.41,224.48 612.78,224.53 614.16,224.58 615.54,224.62 616.91,224.67 618.29,224.71 619.67,224.76 621.04,224.80 622.42,224.85 623.80,224.89 625.17,224.93 626.55,224.98 627.93,225.02 629.30,225.06 630.68,225.10 632.06,225.14 633.43,225.18 634.81,225.22 636.19,225.27 637.56,225.30 638.94,225.34 640.31,225.38 641.69,225.42 643.07,225.46 644.44,225.50 645.82,225.53 647.19,225.57 648.57,225.61 649.94,225.64 651.32,225.68 652.69,225.71 654.06,225.75 655.44,225.78 656.81,225.82 658.18,225.85 659.56,225.88 660.93,225.92 662.30,225.95 663.67,225.98 665.04,226.01 666.41,226.04 667.78,226.07 669.15,226.10 670.52,226.13 671.89,226.16 673.26,226.19 674.63,226.22 676.00,226.24 677.37,226.27 678.73,226.30 680.10,226.32 681.47,226.35 682.83,226.37 684.20,226.40" fill="none" stroke="#333" stroke-width="1.1"/>
<polyline points="406.89,43.90 406.98,45.27 407.07,46.65 407.15,48.02 407.23,49.40 407.31,50.77 407.39,52.14 407.46,53.51 407.53,54.88 407.59,56.25 407.65,57.61 407.71,58.98 407.77,60.35 407.83,61.71 407.88,63.07 407.94,64.44 407.99,65.80 408.04,67.16 408.09,68.52 408.13,69.88 408.18,71.24 408.23,72.60 408.27,73.95 408.32,75.31 408.36,76.67 408.40,78.02 408.45,79.38 408.49,80.73 408.54,82.09 408.58,83.44 408.63,84.80 408.68,86.15 408.72,87.50 408.77,88.86 408.82,90.21 408.87,91.56 408.93,92.91 408.98,94.27 409.04,95.62 409.10,96.97 409.16,98.32 409.22,99.67 409.29,101.03 409.36,102.38 409.43,103.73 409.51,105.08 409.58,106.43 409.67,107.78 409.75,109.14 409.84,110.49 409.93,111.84 410.03,113.19 410.13,114.55 410.24,115.90 410.35,117.26 410.46,118.61 410.58,119.96 410.71,121.32 410.84,122.67 410.97,124.03 411.11,125.39 411.26,126.74 411.41,128.10 411.57,129.46 411.73,130.82 411.90,132.18 412.08,133.54 412.26,134.90 412.45,136.26 412.65,137.62 412.85,138.99 413.06,140.35 413.28,141.72 413.51,143.08 413.74,144.45 413.99,145.81 414.24,147.17 414.51,148.53 414.78,149.89 415.07,151.25 415.37,152.60 415.68,153.94 416.01,155.29 416.35,156.62 416.70,157.95 417.07,159.28 417.45,160.60 417.85,161.91 418.26,163.21 418.69,164.50 419.14,165.79 419.61,167.07 420.10,168.33 420.60,169.59 421.13,170.83 421.67,172.06 422.24,173.28 422.83,174.49 423.43,175.69 424.07,176.87 424.72,178.03 425.40,179.18 426.10,180.32 426.83,181.44 427.58,182.54 428.36,183.63 429.17,184.70 430.00,185.75 430.86,186.78 431.74,187.79 432.64,188.79 433.57,189.76 434.52,190.71 435.50,191.64 436.49,192.56 437.51,193.44 438.54,194.31 439.59,195.16 440.67,195.98 441.76,196.77 442.86,197.55 443.98,198.30 445.12,199.02 446.27,199.72 447.44,200.39 448.62,201.04 449.81,201.66 451.02,202.25 452.23,202.82 453.46,203.36 454.70,203.88 455.95,204.38 457.21,204.86 458.48,205.31 459.76,205.75 461.04,206.16 462.34,206.55 463.65,206.93 464.96,207.28 466.28,207.62 467.61,207.95 468.94,208.25 470.28,208.54 471.63,208.82 472.98,209.08 474.33,209.32 475.69,209.56 477.06,209.78 478.43,209.99 479.80,210.19 481.17,210.38 482.55,210.56 483.93,210.73 485.31,210.90 486.69,211.05 488.08,211.20 489.46,211.34 490.85,211.48 492.23,211.61 493.61,211.74 494.99,211.86 496.37,211.98 497.75,212.10 499.13,212.22 500.50,212.33 501.88,212.45 503.25,212.56 504.62,212.66 505.99,212.77 507.36,212.87 508.72,212.98 510.09,213.08 511.45,213.17 512.81,213.27 514.17,213.36 515.53,213.46 516.89,213.55 518.25,213.64 519.60,213.72 520.96,213.81 522.31,213.89 523.67,213.97 525.02,214.06 526.37,214.13 527.73,214.21 529.08,214.29 530.43,214.36 531.78,214.44 533.13,214.51 534.48,214.58 535.83,214.65 537.18,214.72 538.53,214.78 539.88,214.85 541.23,214.91 542.58,214.98 543.93,215.04 545.27,215.10 546.62,215.16 547.97,215.22 549.32,215.28 550.67,215.34 552.03,215.40 553.38,215.45 554.73,215.51 556.08,215.56 557.44,215.62 558.79,215.67 560.14,215.72 561.50,215.77 562.85,215.82 564.21,215.88 565.57,215.93 566.92,215.97 568.28,216.02 569.64,216.07 571.00,216.12 572.36,216.17 573.72,216.21 575.08,216.26 576.44,216.30 577.80,216.35 579.16,216.39 580.52,216.44 581.89,216.48 583.25,216.52 584.61,216.56 585.98,216.60 587.34,216.64 588.70,216.68 590.07,216.72 591.43,216.76 592.80,216.80 594.16,216.84 595.53,216.88 596.90,216.92 598.26,216.95 599.63,216.99 600.99,217.03 602.36,217.06 603.73,217.10 605.10,217.13 606.46,217.17 607.83,217.20 609.20,217.23 610.56,217.27 611.93,217.30 613.30,217.33 614.67,217.36 616.04,217.40 617.40,217.43 618.77,217.46 620.14,217.49 621.51,217.52 622.88,217.55 624.24,217.58 625.61,217.61 626.98,217.64 628.35,217.67 629.71,217.69 631.08,217.72 632.45,217.75 633.82,217.78 635.18,217.81 636.55,217.83 637.92,217.86 639.29,217.89 640.65,217.91 642.02,217.94 643.38,217.97 644.75,217.99 646.12,218.02 647.48,218.04 648.85,218.07 650.21,218.10 651.58,218.12 652.94,218.15 654.30,218.17 655.67,218.20 657.03,218.22 658.39,218.24 659.75,218.27 661.12,218.29 662.48,218.32 663.84,218.34 665.20,218.37 666.56,218.39 667.92,218.41 669.28,218.44 670.64,218.46 672.00,218.49 673.35,218.51 674.71,218.53 676.07,218.56 677.42,218.58 678.78,218.60 680.14,218.63 681.49,218.65 682.84,218.68 684.20,218.70" fill="none" stroke="#f03c3c" stroke-width="1.1"/>
<line x1="402.5" y1="259.70" x2="406.5" y2="259.70" stroke="#111" stroke-width="1"/>
<line x1="404.5" y1="237.15" x2="406.5" y2="237.15" stroke="#111" stroke-width="1"/>
<line x1="402.5" y1="214.61" x2="406.5" y2="214.61" stroke="#111" stroke-width="1"/>
<line x1="404.5" y1="192.06" x2="406.5" y2="192.06" stroke="#111" stroke-width="1"/>
<line x1="402.5" y1="169.52" x2="406.5" y2="169.52" stroke="#111" stroke-width="1"/>
<line x1="404.5" y1="146.97" x2="406.5" y2="146.97" stroke="#111" stroke-width="1"/>
<line x1="402.5" y1="124.43" x2="406.5" y2="124.43" stroke="#111" stroke-width="1"/>
<line x1="404.5" y1="101.88" x2="406.5" y2="101.88" stroke="#111" stroke-width="1"/>
<line x1="402.5" y1="79.34" x2="406.5" y2="79.34" stroke="#111" stroke-width="1"/>
<line x1="404.5" y1="56.79" x2="406.5" y2="56.79" stroke="#111" stroke-width="1"/>
<line x1="402.5" y1="34.25" x2="406.5" y2="34.25" stroke="#111" stroke-width="1"/>
<line x1="406.50" y1="259.7" x2="406.50" y2="263.7" stroke="#111" stroke-width="1"/>
<line x1="468.49" y1="259.7" x2="468.49" y2="262.2" stroke="#111" stroke-width="1"/>
<line x1="530.47" y1="259.7" x2="530.47" y2="263.7" stroke="#111" stroke-width="1"/>
<line x1="592.46" y1="259.7" x2="592.46" y2="262.2" stroke="#111" stroke-width="1"/>
<line x1="654.45" y1="259.7" x2="654.45" y2="263.7" stroke="#111" stroke-width="1"/>
<text x="399.8" y="265.30" text-anchor="end" font-size="16.4">1</text>
<text x="399.8" y="220.21" text-anchor="end" font-size="16.4">2</text>
<text x="399.8" y="175.12" text-anchor="end" font-size="16.4">3</text>
<text x="399.8" y="130.03" text-anchor="end" font-size="16.4">4</text>
<text x="399.8" y="84.94" text-anchor="end" font-size="16.4">5</text>
<text x="399.8" y="39.85" text-anchor="end" font-size="16.4">6</text>
<text x="406.50" y="279.6" text-anchor="middle" font-size="16.4">0</text>
<text x="530.47" y="279.6" text-anchor="middle" font-size="16.4">25</text>
<text x="654.45" y="279.6" text-anchor="middle" font-size="16.4">50</text>
<text x="545.35" y="304.7" text-anchor="middle" font-size="16.4">Hydration age (day)</text>
<text transform="translate(377.6,135.9) rotate(-90)" text-anchor="middle" font-size="16.8">Number of CP voxels (×10<tspan font-size="11.2" dy="-6.7">5</tspan><tspan dy="6.7">)</tspan></text>
<text x="360.6" y="10.6" font-size="16" font-weight="bold">(b)</text>
<line x1="474.3" y1="32.9" x2="511" y2="32.9" stroke="#555" stroke-width="1.1"/>
<line x1="474.3" y1="52.7" x2="511" y2="52.7" stroke="#f03c3c" stroke-width="1.1"/>
<text x="515.3" y="39.1" font-size="16.5">pp = 0%, w/s = 0.4</text>
<text x="515.3" y="58.4" font-size="16.5">pp = 10%, w/s = 0.4</text>
<rect x="413.3" y="159.7" width="42.9" height="34.1" stroke="#222" stroke-width="1.35" fill="none" stroke-dasharray="4.9,4.4"/>
<line x1="456.2" y1="159.7" x2="531" y2="102" stroke="#222" stroke-width="1.35" fill="none" stroke-dasharray="5.3,4.6"/>
<line x1="456.2" y1="193.8" x2="537" y2="182.6" stroke="#222" stroke-width="1.35" fill="none" stroke-dasharray="5.3,4.6"/>
<clipPath id="ic"><rect x="538.4" y="92.7" width="111.90" height="89.60"/></clipPath>
<rect x="538.4" y="92.7" width="111.90" height="89.60" fill="#fff"/>
<g clip-path="url(#ic)"><polyline points="536.50,-27.64 536.89,-16.63 537.28,-6.84 537.66,1.94 538.05,9.86 538.44,17.06 538.83,23.62 539.22,29.64 539.60,35.18 539.99,40.30 540.38,45.06 540.77,49.48 541.16,53.61 541.54,57.47 541.93,61.10 542.32,64.51 542.71,67.72 543.10,70.75 543.48,73.63 543.87,76.35 544.26,78.93 544.65,81.39 545.04,83.73 545.42,85.96 545.81,88.09 546.20,90.13 546.59,92.08 546.97,93.95 547.36,95.74 547.75,97.46 548.14,99.12 548.53,100.71 548.91,102.24 549.30,103.72 549.69,105.14 550.08,106.52 550.47,107.85 550.85,109.13 551.24,110.37 551.63,111.57 552.02,112.74 552.41,113.87 552.79,114.96 553.18,116.02 553.57,117.05 553.96,118.05 554.35,119.02 554.73,119.96 555.12,120.88 555.51,121.78 555.90,122.65 556.29,123.49 556.67,124.32 557.06,125.12 557.45,125.91 557.84,126.67 558.23,127.42 558.61,128.15 559.00,128.86 559.39,129.56 559.78,130.23 560.17,130.90 560.55,131.55 560.94,132.18 561.33,132.80 561.72,133.41 562.11,134.00 562.49,134.59 562.88,135.16 563.27,135.72 563.66,136.26 564.05,136.80 564.43,137.32 564.82,137.84 565.21,138.35 565.60,138.84 565.98,139.33 566.37,139.81 566.76,140.27 567.15,140.74 567.54,141.19 567.92,141.63 568.31,142.07 568.70,142.50 569.09,142.92 569.48,143.33 569.86,143.74 570.25,144.14 570.64,144.53 571.03,144.92 571.42,145.30 571.80,145.67 572.19,146.04 572.58,146.40 572.97,146.76 573.36,147.11 573.74,147.46 574.13,147.80 574.52,148.14 574.91,148.47 575.30,148.79 575.68,149.11 576.07,149.43 576.46,149.74 576.85,150.05 577.24,150.35 577.62,150.65 578.01,150.94 578.40,151.23 578.79,151.52 579.18,151.80 579.56,152.08 579.95,152.36 580.34,152.63 580.73,152.90 581.12,153.16 581.50,153.42 581.89,153.68 582.28,153.93 582.67,154.18 583.06,154.43 583.44,154.68 583.83,154.92 584.22,155.16 584.61,155.39 584.99,155.63 585.38,155.86 585.77,156.08 586.16,156.31 586.55,156.53 586.93,156.75 587.32,156.96 587.71,157.18 588.10,157.39 588.49,157.60 588.87,157.81 589.26,158.01 589.65,158.21 590.04,158.41 590.43,158.61 590.81,158.81 591.20,159.00 591.59,159.19 591.98,159.38 592.37,159.57 592.75,159.76 593.14,159.94 593.53,160.12 593.92,160.30 594.31,160.48 594.69,160.65 595.08,160.83 595.47,161.00 595.86,161.17 596.25,161.34 596.63,161.51 597.02,161.67 597.41,161.84 597.80,162.00 598.19,162.16 598.57,162.32 598.96,162.48 599.35,162.63 599.74,162.79 600.13,162.94 600.51,163.09 600.90,163.25 601.29,163.39 601.68,163.54 602.07,163.69 602.45,163.83 602.84,163.98 603.23,164.12 603.62,164.26 604.01,164.40 604.39,164.54 604.78,164.68 605.17,164.81 605.56,164.95 605.94,165.08 606.33,165.21 606.72,165.34 607.11,165.47 607.50,165.60 607.88,165.73 608.27,165.86 608.66,165.98 609.05,166.11 609.44,166.23 609.82,166.36 610.21,166.48 610.60,166.60 610.99,166.72 611.38,166.84 611.76,166.95 612.15,167.07 612.54,167.19 612.93,167.30 613.32,167.42 613.70,167.53 614.09,167.64 614.48,167.75 614.87,167.86 615.26,167.97 615.64,168.08 616.03,168.19 616.42,168.30 616.81,168.40 617.20,168.51 617.58,168.61 617.97,168.72 618.36,168.82 618.75,168.92 619.14,169.03 619.52,169.13 619.91,169.23 620.30,169.33 620.69,169.42 621.08,169.52 621.46,169.62 621.85,169.72 622.24,169.81 622.63,169.91 623.02,170.00 623.40,170.10 623.79,170.19 624.18,170.28 624.57,170.37 624.95,170.47 625.34,170.56 625.73,170.65 626.12,170.74 626.51,170.82 626.89,170.91 627.28,171.00 627.67,171.09 628.06,171.17 628.45,171.26 628.83,171.34 629.22,171.43 629.61,171.51 630.00,171.60 630.39,171.68 630.77,171.76 631.16,171.84 631.55,171.93 631.94,172.01 632.33,172.09 632.71,172.17 633.10,172.25 633.49,172.32 633.88,172.40 634.27,172.48 634.65,172.56 635.04,172.63 635.43,172.71 635.82,172.79 636.21,172.86 636.59,172.94 636.98,173.01 637.37,173.09 637.76,173.16 638.15,173.23 638.53,173.31 638.92,173.38 639.31,173.45 639.70,173.52 640.09,173.59 640.47,173.66 640.86,173.73 641.25,173.80 641.64,173.87 642.03,173.94 642.41,174.01 642.80,174.08 643.19,174.14 643.58,174.21 643.96,174.28 644.35,174.35 644.74,174.41 645.13,174.48 645.52,174.54 645.90,174.61 646.29,174.67 646.68,174.74 647.07,174.80 647.46,174.86 647.84,174.93 648.23,174.99 648.62,175.05 649.01,175.11 649.40,175.18 649.78,175.24 650.17,175.30 650.56,175.36 650.95,175.42 651.34,175.48 651.72,175.54 652.11,175.60 652.50,175.66" fill="none" stroke="#333" stroke-width="0.8"/>
<polyline points="536.50,34.83 536.89,41.13 537.28,46.83 537.66,52.01 538.05,56.75 538.44,61.11 538.83,65.12 539.22,68.84 539.60,72.29 539.99,75.51 540.38,78.52 540.77,81.34 541.16,83.99 541.54,86.48 541.93,88.83 542.32,91.06 542.71,93.16 543.10,95.16 543.48,97.06 543.87,98.86 544.26,100.59 544.65,102.23 545.04,103.80 545.42,105.30 545.81,106.74 546.20,108.12 546.59,109.45 546.97,110.72 547.36,111.94 547.75,113.12 548.14,114.26 548.53,115.35 548.91,116.41 549.30,117.43 549.69,118.41 550.08,119.36 550.47,120.29 550.85,121.18 551.24,122.05 551.63,122.88 552.02,123.70 552.41,124.49 552.79,125.25 553.18,126.00 553.57,126.72 553.96,127.43 554.35,128.11 554.73,128.78 555.12,129.43 555.51,130.06 555.90,130.68 556.29,131.28 556.67,131.87 557.06,132.44 557.45,133.00 557.84,133.54 558.23,134.08 558.61,134.60 559.00,135.11 559.39,135.60 559.78,136.09 560.17,136.57 560.55,137.03 560.94,137.49 561.33,137.93 561.72,138.37 562.11,138.80 562.49,139.22 562.88,139.63 563.27,140.03 563.66,140.43 564.05,140.81 564.43,141.19 564.82,141.57 565.21,141.93 565.60,142.29 565.98,142.65 566.37,142.99 566.76,143.33 567.15,143.67 567.54,144.00 567.92,144.32 568.31,144.64 568.70,144.95 569.09,145.26 569.48,145.56 569.86,145.85 570.25,146.15 570.64,146.43 571.03,146.72 571.42,146.99 571.80,147.27 572.19,147.54 572.58,147.80 572.97,148.06 573.36,148.32 573.74,148.58 574.13,148.83 574.52,149.07 574.91,149.32 575.30,149.55 575.68,149.79 576.07,150.02 576.46,150.25 576.85,150.48 577.24,150.70 577.62,150.92 578.01,151.14 578.40,151.35 578.79,151.56 579.18,151.77 579.56,151.98 579.95,152.18 580.34,152.38 580.73,152.58 581.12,152.77 581.50,152.97 581.89,153.16 582.28,153.35 582.67,153.53 583.06,153.71 583.44,153.90 583.83,154.07 584.22,154.25 584.61,154.43 584.99,154.60 585.38,154.77 585.77,154.94 586.16,155.10 586.55,155.27 586.93,155.43 587.32,155.59 587.71,155.75 588.10,155.91 588.49,156.07 588.87,156.22 589.26,156.37 589.65,156.52 590.04,156.67 590.43,156.82 590.81,156.96 591.20,157.11 591.59,157.25 591.98,157.39 592.37,157.53 592.75,157.67 593.14,157.81 593.53,157.94 593.92,158.08 594.31,158.21 594.69,158.34 595.08,158.47 595.47,158.60 595.86,158.73 596.25,158.85 596.63,158.98 597.02,159.10 597.41,159.23 597.80,159.35 598.19,159.47 598.57,159.59 598.96,159.71 599.35,159.82 599.74,159.94 600.13,160.05 600.51,160.17 600.90,160.28 601.29,160.39 601.68,160.50 602.07,160.61 602.45,160.72 602.84,160.83 603.23,160.93 603.62,161.04 604.01,161.15 604.39,161.25 604.78,161.35 605.17,161.45 605.56,161.56 605.94,161.66 606.33,161.76 606.72,161.86 607.11,161.95 607.50,162.05 607.88,162.15 608.27,162.24 608.66,162.34 609.05,162.43 609.44,162.52 609.82,162.62 610.21,162.71 610.60,162.80 610.99,162.89 611.38,162.98 611.76,163.07 612.15,163.16 612.54,163.24 612.93,163.33 613.32,163.42 613.70,163.50 614.09,163.59 614.48,163.67 614.87,163.75 615.26,163.84 615.64,163.92 616.03,164.00 616.42,164.08 616.81,164.16 617.20,164.24 617.58,164.32 617.97,164.40 618.36,164.48 618.75,164.55 619.14,164.63 619.52,164.71 619.91,164.78 620.30,164.86 620.69,164.93 621.08,165.01 621.46,165.08 621.85,165.15 622.24,165.23 622.63,165.30 623.02,165.37 623.40,165.44 623.79,165.51 624.18,165.58 624.57,165.65 624.95,165.72 625.34,165.79 625.73,165.86 626.12,165.92 626.51,165.99 626.89,166.06 627.28,166.12 627.67,166.19 628.06,166.26 628.45,166.32 628.83,166.39 629.22,166.45 629.61,166.51 630.00,166.58 630.39,166.64 630.77,166.70 631.16,166.77 631.55,166.83 631.94,166.89 632.33,166.95 632.71,167.01 633.10,167.07 633.49,167.13 633.88,167.19 634.27,167.25 634.65,167.31 635.04,167.37 635.43,167.42 635.82,167.48 636.21,167.54 636.59,167.60 636.98,167.65 637.37,167.71 637.76,167.76 638.15,167.82 638.53,167.88 638.92,167.93 639.31,167.99 639.70,168.04 640.09,168.09 640.47,168.15 640.86,168.20 641.25,168.25 641.64,168.31 642.03,168.36 642.41,168.41 642.80,168.46 643.19,168.51 643.58,168.57 643.96,168.62 644.35,168.67 644.74,168.72 645.13,168.77 645.52,168.82 645.90,168.87 646.29,168.92 646.68,168.97 647.07,169.01 647.46,169.06 647.84,169.11 648.23,169.16 648.62,169.21 649.01,169.25 649.40,169.30 649.78,169.35 650.17,169.39 650.56,169.44 650.95,169.49 651.34,169.53 651.72,169.58 652.11,169.62 652.50,169.67" fill="none" stroke="#f03c3c" stroke-width="0.8"/></g>
<line x1="538.4" y1="92.7" x2="650.3" y2="92.7" stroke="#999" stroke-width="0.8"/>
<line x1="538.4" y1="92.7" x2="538.4" y2="182.3" stroke="#999" stroke-width="0.8"/>
<line x1="650.3" y1="92.7" x2="650.3" y2="182.3" stroke="#111" stroke-width="1"/>
<line x1="538.4" y1="182.3" x2="650.3" y2="182.3" stroke="#777" stroke-width="0.8"/>
<line x1="536.6" y1="176.50" x2="538.4" y2="176.50" stroke="#555" stroke-width="0.7"/>
<line x1="536.6" y1="156.95" x2="538.4" y2="156.95" stroke="#555" stroke-width="0.7"/>
<line x1="536.6" y1="137.40" x2="538.4" y2="137.40" stroke="#555" stroke-width="0.7"/>
<line x1="536.6" y1="117.85" x2="538.4" y2="117.85" stroke="#555" stroke-width="0.7"/>
<line x1="536.6" y1="98.30" x2="538.4" y2="98.30" stroke="#555" stroke-width="0.7"/>
<text x="535.4" y="179.20" text-anchor="end" font-size="7.7" class="s">2</text>
<text x="535.4" y="140.10" text-anchor="end" font-size="7.7" class="s">3</text>
<text x="535.4" y="101.00" text-anchor="end" font-size="7.7" class="s">4</text>
<line x1="543.50" y1="182.3" x2="543.50" y2="180.70000000000002" stroke="#444" stroke-width="0.7"/>
<line x1="553.50" y1="182.3" x2="553.50" y2="180.70000000000002" stroke="#444" stroke-width="0.7"/>
<line x1="563.50" y1="182.3" x2="563.50" y2="180.70000000000002" stroke="#444" stroke-width="0.7"/>
<line x1="573.50" y1="182.3" x2="573.50" y2="180.70000000000002" stroke="#444" stroke-width="0.7"/>
<line x1="583.50" y1="182.3" x2="583.50" y2="180.70000000000002" stroke="#444" stroke-width="0.7"/>
<line x1="593.50" y1="182.3" x2="593.50" y2="180.70000000000002" stroke="#444" stroke-width="0.7"/>
<line x1="603.50" y1="182.3" x2="603.50" y2="180.70000000000002" stroke="#444" stroke-width="0.7"/>
<line x1="613.50" y1="182.3" x2="613.50" y2="180.70000000000002" stroke="#444" stroke-width="0.7"/>
<line x1="623.50" y1="182.3" x2="623.50" y2="180.70000000000002" stroke="#444" stroke-width="0.7"/>
<line x1="633.50" y1="182.3" x2="633.50" y2="180.70000000000002" stroke="#444" stroke-width="0.7"/>
<line x1="643.50" y1="182.3" x2="643.50" y2="180.70000000000002" stroke="#444" stroke-width="0.7"/>
<text x="553.50" y="191.6" text-anchor="middle" font-size="7.7" class="s">2</text>
<text x="573.50" y="191.6" text-anchor="middle" font-size="7.7" class="s">4</text>
<text x="593.50" y="191.6" text-anchor="middle" font-size="7.7" class="s">6</text>
<text x="613.50" y="191.6" text-anchor="middle" font-size="7.7" class="s">8</text>
<text x="633.50" y="191.6" text-anchor="middle" font-size="7.7" class="s">10</text>
<rect x="564.5" y="96.3" width="83.1" height="19.4" fill="#fff" stroke="#aaa" stroke-width="0.6"/>
<line x1="565.8" y1="101.3" x2="583" y2="101.3" stroke="#333" stroke-width="0.8"/>
<line x1="565.8" y1="110.8" x2="583" y2="110.8" stroke="#f03c3c" stroke-width="0.8"/>
<text x="584.4" y="103.9" font-size="7.7" class="s">pp = 0%, w/s = 0.4</text>
<text x="584.4" y="113.0" font-size="7.7" class="s">pp = 10%, w/s = 0.4</text>
<line x1="578.4" y1="151.2" x2="578.4" y2="182.3" stroke="#111" stroke-width="0.9" stroke-dasharray="1.8,1.7"/>
<line x1="594.6" y1="141.8" x2="584.5" y2="147.1" stroke="#111" stroke-width="1"/>
<polygon points="579.8,149.7 583.2,144.6 585.9,149.6" fill="#111"/>
<text x="598.9" y="139.8" font-size="16">4.5</text>
</svg></body></html>
